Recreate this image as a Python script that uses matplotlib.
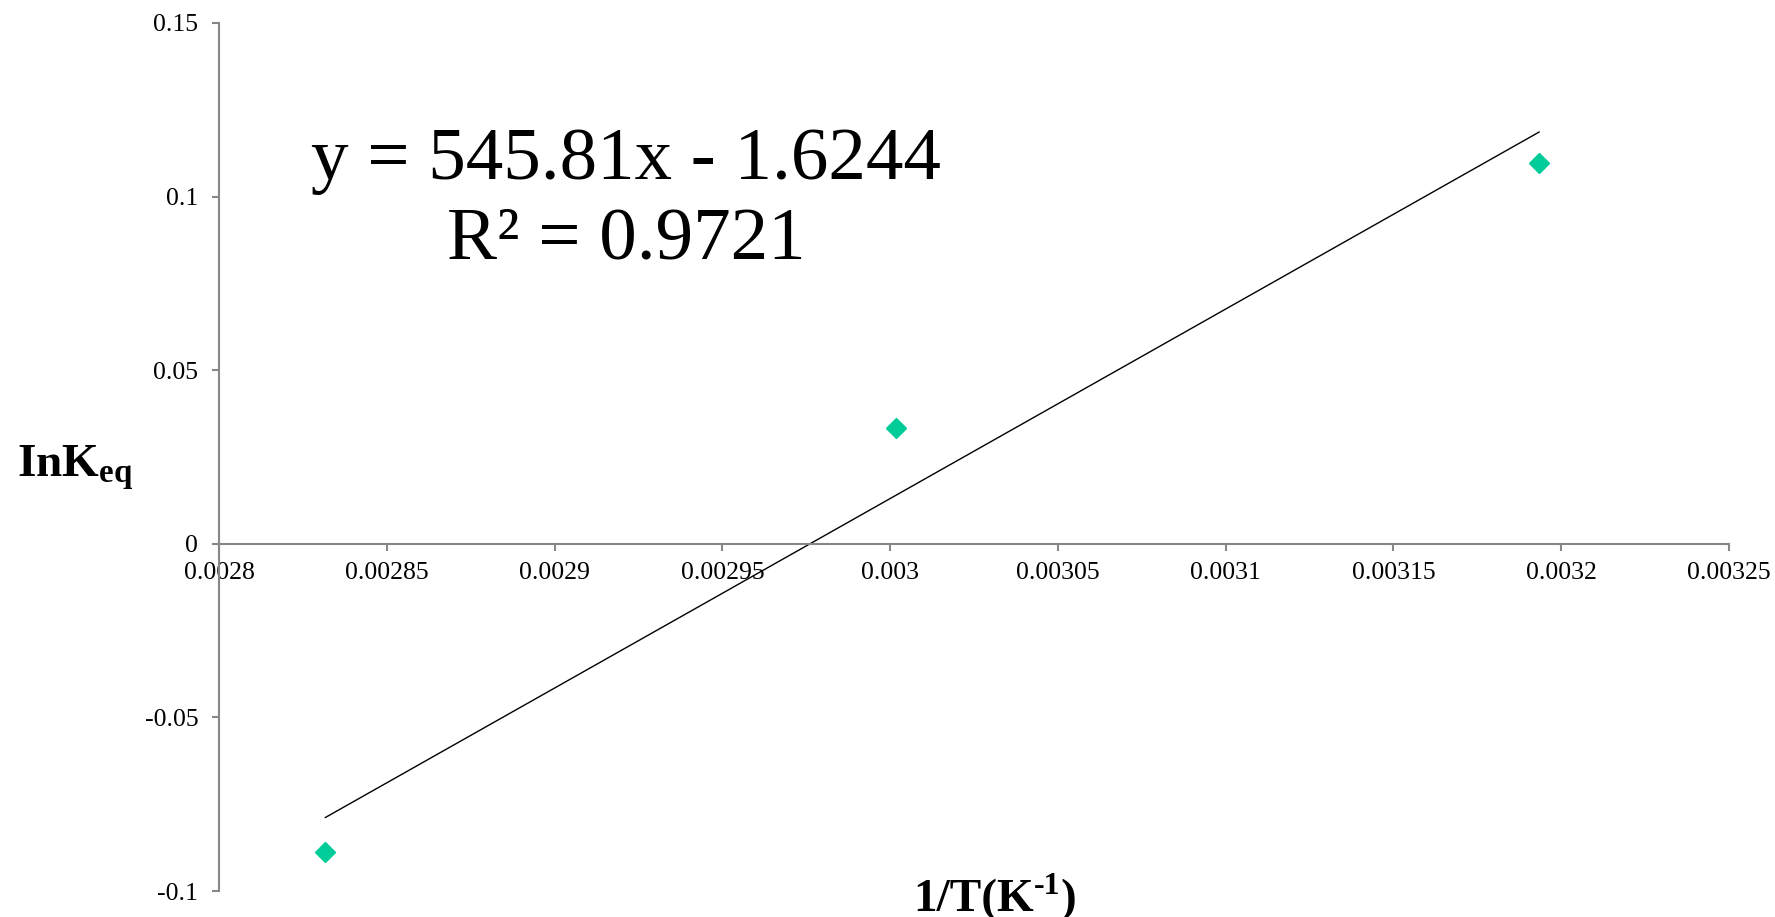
import numpy as np
import matplotlib
matplotlib.use("Agg")
import matplotlib.pyplot as plt
from matplotlib.ticker import MultipleLocator, FuncFormatter

# data (1/T in K^-1, ln Keq)
inv_t = [0.0028317, 0.0030017, 0.0031934]
ln_keq = [-0.0887, 0.0334, 0.1097]
slope = 545.81
intercept = -1.6244
r_squared = 0.9721

plt.rcParams["font.family"] = ["Liberation Serif", "DejaVu Serif"]
plt.rcParams["mathtext.fontset"] = "custom"
plt.rcParams["mathtext.rm"] = "Liberation Serif"
plt.rcParams["mathtext.bf"] = "Liberation Serif:bold"
plt.rcParams["mathtext.it"] = "Liberation Serif:italic"

axis_grey = "#878787"
W, H = 1775, 917

fig = plt.figure(figsize=(W/100, H/100), dpi=100)
ax = fig.add_axes([219/W, 1 - 891/H, (1729 - 219)/W, (891 - 23)/H])

ax.plot(inv_t, ln_keq, linestyle="none", marker="D", markersize=10.5,
        color="#00CC99", zorder=3)

fit_x = np.array([min(inv_t), max(inv_t)])
ax.plot(fit_x, slope*fit_x + intercept, color="black", linewidth=1.0, zorder=2)

ax.set_xlim(0.0028, 0.00325)
ax.set_ylim(-0.1, 0.15)
ax.xaxis.set_major_locator(MultipleLocator(0.00005))
ax.yaxis.set_major_locator(MultipleLocator(0.05))


def fmt(v, pos):
    s = f"{v:.5f}".rstrip("0").rstrip(".")
    if s in ("-0", ""):
        s = "0"
    return s


ax.xaxis.set_major_formatter(FuncFormatter(fmt))
ax.yaxis.set_major_formatter(FuncFormatter(fmt))

for side in ["top", "right"]:
    ax.spines[side].set_visible(False)
ax.spines["bottom"].set_position(("data", 0))
for side in ["left", "bottom"]:
    ax.spines[side].set_color(axis_grey)
    ax.spines[side].set_linewidth(1.5)

ax.tick_params(axis="both", direction="out", length=5, width=1.5,
               color=axis_grey, labelsize=18.5, labelcolor="black")
ax.tick_params(axis="y", pad=10)
ax.tick_params(axis="x", pad=8)

ax.text(-0.134, 0.488, r"$\mathbf{InK_{eq}}$", transform=ax.transAxes,
        fontsize=34, ha="left", va="center")

# x label in three pieces so the superscript keeps a plain hyphen
base_y = 1 - 911/H
parts = [
    fig.text(0, base_y, "1/T(K", fontsize=34, weight="bold", va="baseline"),
    fig.text(0, base_y + 17/H, "-1", fontsize=23, weight="bold", va="baseline"),
    fig.text(0, base_y, ")", fontsize=34, weight="bold", va="baseline"),
]
fig.canvas.draw()
renderer = fig.canvas.get_renderer()
widths = [p.get_window_extent(renderer).width for p in parts]
x_px = 995 - sum(widths)/2
for p, w in zip(parts, widths):
    p.set_x(x_px/W)
    x_px += w

ax.text(0.2695, 0.820, f"y = {slope}x - {abs(intercept)}", transform=ax.transAxes,
        fontsize=54, ha="center", va="baseline")
ax.text(0.2695, 0.729, f"R\u00b2 = {r_squared}", transform=ax.transAxes,
        fontsize=54, ha="center", va="baseline")

fig.savefig("out.png", dpi=100)
